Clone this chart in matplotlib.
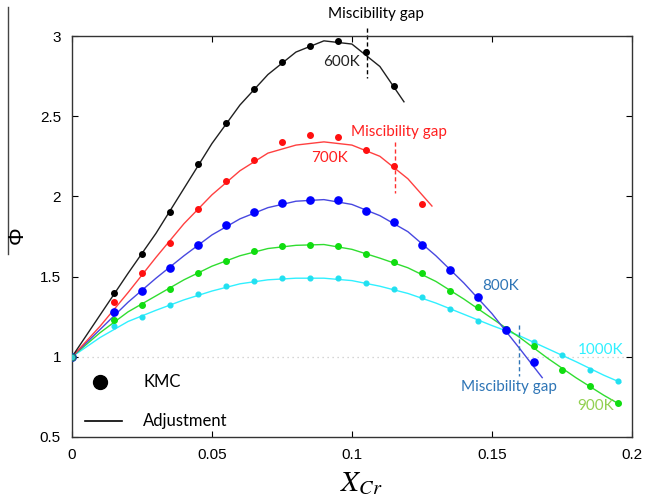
import numpy as np
import matplotlib.pyplot as plt
from matplotlib.lines import Line2D

# Points KMC (x = X_Cr, y = Phi)
x_kmc = [0, 0.015, 0.025, 0.035, 0.045, 0.055, 0.065, 0.075, 0.085, 0.095,
         0.105, 0.115, 0.125, 0.135, 0.145, 0.155, 0.165, 0.175, 0.185, 0.195]
kmc_600 = [1.0, 1.40, 1.64, 1.905, 2.20, 2.455, 2.67, 2.84, 2.94, 2.97, 2.90, 2.69]
kmc_700 = [1.0, 1.34, 1.52, 1.71, 1.92, 2.095, 2.225, 2.34, 2.38, 2.37, 2.29, 2.19, 1.95]
kmc_800 = [1.0, 1.28, 1.41, 1.555, 1.70, 1.82, 1.90, 1.96, 1.98, 1.98, 1.91, 1.84,
           1.70, 1.54, 1.37, 1.17, 0.97]
kmc_900 = [1.0, 1.23, 1.325, 1.425, 1.525, 1.60, 1.66, 1.69, 1.70, 1.69, 1.64, 1.59,
           1.52, 1.41, 1.31, 1.175, 1.07, 0.92, 0.82, 0.71]
kmc_1000 = [1.0, 1.19, 1.25, 1.32, 1.39, 1.44, 1.475, 1.49, 1.49, 1.49, 1.46, 1.42,
            1.37, 1.30, 1.225, 1.17, 1.09, 1.01, 0.92, 0.85]

# Courbes d'ajustement
x_fit = [0, 0.01, 0.02, 0.03, 0.04, 0.05, 0.06, 0.07, 0.08, 0.09, 0.10, 0.11,
         0.12, 0.13, 0.14, 0.15, 0.16, 0.17, 0.18, 0.19]
fit_600 = [1.0, 1.26, 1.52, 1.77, 2.05, 2.33, 2.57, 2.76, 2.90, 2.97, 2.95, 2.81]
end_600 = (0.1186, 2.59)
fit_700 = [1.0, 1.19, 1.40, 1.62, 1.83, 2.01, 2.16, 2.27, 2.32, 2.34, 2.32, 2.25, 2.11]
end_700 = (0.1286, 1.94)
fit_800 = [1.0, 1.17, 1.34, 1.49, 1.63, 1.76, 1.86, 1.93, 1.97, 1.98, 1.95, 1.88,
           1.78, 1.63, 1.46, 1.27, 1.05]
end_800 = (0.168, 0.87)
fit_900 = [1.0, 1.15, 1.28, 1.38, 1.48, 1.565, 1.63, 1.675, 1.695, 1.70, 1.67, 1.615,
           1.555, 1.47, 1.36, 1.24, 1.12, 0.99, 0.87, 0.76]
end_900 = (0.196, 0.70)
fit_1000 = [1.0, 1.12, 1.22, 1.29, 1.355, 1.41, 1.455, 1.48, 1.49, 1.49, 1.475, 1.44,
            1.395, 1.335, 1.265, 1.195, 1.13, 1.05, 0.97, 0.885]
end_1000 = (0.196, 0.84)

series = [
    # kmc, fit, end, point colour, line colour, marker size
    (kmc_1000, fit_1000, end_1000, '#22e0f0', '#30f0ff', 3.4),
    (kmc_900, fit_900, end_900, '#10dd10', '#30dd30', 4.0),
    (kmc_800, fit_800, end_800, '#0000ff', '#4848e0', 5.2),
    (kmc_700, fit_700, end_700, '#ff1010', '#ff4040', 4.0),
    (kmc_600, fit_600, end_600, '#000000', '#202020', 4.0),
]

plt.rcParams['font.family'] = ['Liberation Sans', 'DejaVu Sans']
plt.rcParams['mathtext.fontset'] = 'stix'
lab_font = ['Lato', 'DejaVu Sans']

fig = plt.figure(figsize=(6.46, 5.04), dpi=100)
ax = fig.add_axes([0.1115, 0.133, 0.8665, 0.7955])

ax.axhline(1.0, color='#c8c8c8', lw=0.9, ls=(0, (1, 3)), zorder=0)

for kmc, fit, end, pc, lc, ms in series:
    xf = x_fit[:len(fit)] + [end[0]]
    yf = fit + [end[1]]
    ax.plot(xf, yf, color=lc, lw=1.0, zorder=2)
    ax.plot(x_kmc[:len(kmc)], kmc, 'o', color=pc, ms=ms, mec=pc, zorder=3)

# point d'origine commun
ax.plot([0], [1.0], 'o', color='#30c8c8', mec='#207070', ms=5, zorder=4)

# Lacunes de miscibilite
ax.plot([0.1054, 0.1054], [3.05, 2.74], color='black', lw=1.0, ls=(0, (3, 2)),
        clip_on=False)
ax.plot([0.1154, 0.1154], [2.34, 2.02], color='#ff3030', lw=1.0, ls=(0, (3, 2)))
ax.plot([0.1597, 0.1597], [1.20, 0.88], color='#2e75b6', lw=1.0, ls=(0, (3, 2)))

ax.text(0.1086, 3.14, 'Miscibility gap', color='black', fontsize=11,
        family=lab_font, ha='center', va='center', clip_on=False)
ax.text(0.0964, 2.84, '600K', color='#222222', fontsize=11, family=lab_font,
        ha='center', va='center')
ax.text(0.1168, 2.40, 'Miscibility gap', color='#ff2020', fontsize=11,
        family=lab_font, ha='center', va='center')
ax.text(0.092, 2.24, '700K', color='#ff2020', fontsize=11, family=lab_font,
        ha='center', va='center')
ax.text(0.153, 1.44, '800K', color='#2e75b6', fontsize=11, family=lab_font,
        ha='center', va='center')
ax.text(0.156, 0.81, 'Miscibility gap', color='#2e75b6', fontsize=11,
        family=lab_font, ha='center', va='center')
ax.text(0.189, 1.045, '1000K', color='#30f0ff', fontsize=11, family=lab_font,
        ha='center', va='center')
ax.text(0.187, 0.69, '900K', color='#92d050', fontsize=11, family=lab_font,
        ha='center', va='center')

# Legende faite a la main
ax.plot([0.0101], [0.84], 'o', color='black', ms=10)
ax.text(0.0255, 0.84, 'KMC', fontsize=12, family=lab_font, va='center')
ax.plot([0.0048, 0.018], [0.60, 0.60], color='black', lw=1.2)
ax.text(0.0255, 0.60, 'Adjustment', fontsize=12, family=lab_font, va='center')

ax.set_xlim(0, 0.2)
ax.set_ylim(0.5, 3.0)
ax.set_xticks([0, 0.05, 0.1, 0.15, 0.2])
ax.set_xticklabels(['0', '0.05', '0.1', '0.15', '0.2'])
ax.set_yticks([0.5, 1, 1.5, 2, 2.5, 3])
ax.set_yticklabels(['0.5', '1', '1.5', '2', '2.5', '3'])
ax.tick_params(direction='in', length=4, width=0.8, labelsize=11,
               top=True, right=True, pad=8)
for s in ax.spines.values():
    s.set_linewidth(1.0)
    s.set_color('#333333')

fig.text(0.56, 0.042, r'$X_{Cr}$', fontsize=21, ha='center', va='center')
fig.text(0.027, 0.534, 'Φ', fontsize=16, rotation=90, ha='center', va='center')
fig.add_artist(Line2D([0.0124, 0.0124], [0.986, 0.496], color='#444444', lw=1.0))

fig.savefig('out.png', dpi=100)
